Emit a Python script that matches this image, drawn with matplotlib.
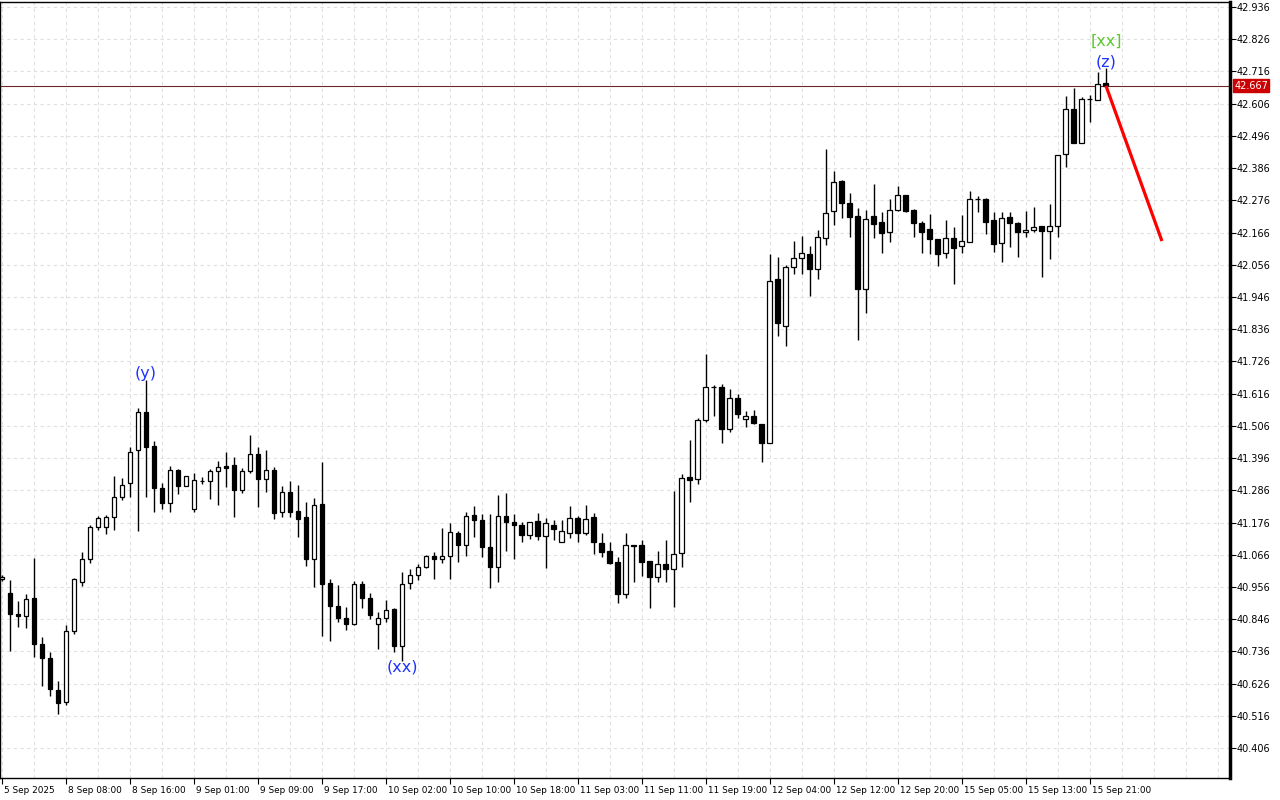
import matplotlib
matplotlib.use("Agg")
import matplotlib.pyplot as plt
import matplotlib.transforms as mtransforms
import numpy as np

# hourly candles, 5 Sep 2025 -> 15 Sep 2025
opens = [40.983, 40.936, 40.864, 40.857, 40.918, 40.761, 40.714, 40.604, 40.563, 40.805,
         40.973, 41.052, 41.161, 41.161, 41.195, 41.263, 41.311, 41.424, 41.553, 41.437,
         41.294, 41.243, 41.355, 41.301, 41.222, 41.318, 41.318, 41.352, 41.369, 41.372,
         41.287, 41.352, 41.410, 41.325, 41.355, 41.212, 41.280, 41.215, 41.195, 41.052,
         41.239, 40.970, 40.891, 40.850, 40.830, 40.966, 40.918, 40.830, 40.850, 40.881,
         40.755, 40.970, 40.997, 41.024, 41.062, 41.052, 41.062, 41.140, 41.099, 41.202,
         41.185, 41.092, 41.024, 41.198, 41.178, 41.168, 41.133, 41.181, 41.130, 41.168,
         41.110, 41.140, 41.192, 41.140, 41.195, 41.106, 41.079, 41.041, 40.932, 41.099,
         41.099, 41.045, 40.990, 41.035, 41.017, 41.072, 41.332, 41.325, 41.526, 41.639,
         41.639, 41.495, 41.601, 41.530, 41.540, 41.512, 41.448, 42.008, 41.847, 42.049,
         42.079, 42.093, 42.042, 42.147, 42.240, 42.342, 42.267, 42.223, 41.973, 42.223,
         42.202, 42.168, 42.243, 42.294, 42.243, 42.199, 42.178, 42.144, 42.096, 42.147,
         42.120, 42.134, 42.281, 42.281, 42.209, 42.130, 42.219, 42.199, 42.168, 42.175,
         42.188, 42.171, 42.188, 42.434, 42.588, 42.472, 42.622, 42.619, 42.677]

highs = [40.997, 40.980, 40.908, 40.932, 41.055, 40.785, 40.734, 40.635, 40.826, 40.987,
         41.076, 41.168, 41.198, 41.202, 41.335, 41.328, 41.434, 41.567, 41.663, 41.454,
         41.311, 41.369, 41.359, 41.335, 41.345, 41.332, 41.359, 41.386, 41.417, 41.400,
         41.362, 41.475, 41.434, 41.424, 41.366, 41.301, 41.318, 41.304, 41.246, 41.260,
         41.383, 40.983, 40.963, 40.888, 40.977, 40.977, 40.936, 40.871, 40.912, 40.884,
         41.007, 41.017, 41.035, 41.065, 41.076, 41.157, 41.174, 41.147, 41.212, 41.233,
         41.205, 41.205, 41.270, 41.277, 41.205, 41.178, 41.178, 41.209, 41.192, 41.185,
         41.185, 41.233, 41.198, 41.236, 41.209, 41.140, 41.110, 41.058, 41.140, 41.099,
         41.116, 41.045, 41.079, 41.116, 41.284, 41.342, 41.458, 41.533, 41.751, 41.646,
         41.649, 41.632, 41.615, 41.557, 41.560, 41.512, 42.093, 42.083, 42.055, 42.137,
         42.154, 42.120, 42.175, 42.451, 42.376, 42.346, 42.301, 42.250, 42.243, 42.332,
         42.236, 42.281, 42.325, 42.294, 42.247, 42.206, 42.229, 42.144, 42.209, 42.185,
         42.226, 42.308, 42.291, 42.284, 42.236, 42.236, 42.236, 42.202, 42.240, 42.253,
         42.188, 42.264, 42.431, 42.632, 42.660, 42.629, 42.636, 42.714, 42.728]

lows = [40.977, 40.738, 40.819, 40.816, 40.717, 40.618, 40.584, 40.522, 40.553, 40.796,
        40.959, 41.038, 41.151, 41.137, 41.151, 41.253, 41.263, 41.147, 41.263, 41.212,
        41.222, 41.212, 41.273, 41.301, 41.212, 41.308, 41.256, 41.236, 41.297, 41.195,
        41.277, 41.345, 41.229, 41.280, 41.188, 41.195, 41.195, 41.127, 41.028, 40.956,
        40.789, 40.772, 40.837, 40.809, 40.826, 40.884, 40.847, 40.744, 40.837, 40.734,
        40.703, 40.949, 40.980, 41.021, 40.983, 41.038, 40.983, 41.041, 41.062, 41.127,
        41.058, 40.953, 40.973, 41.079, 41.052, 41.110, 41.120, 41.116, 41.021, 41.116,
        41.110, 41.123, 41.110, 41.133, 41.069, 41.058, 41.035, 40.901, 40.918, 40.973,
        40.993, 40.884, 40.973, 40.973, 40.888, 41.024, 41.246, 41.308, 41.519, 41.540,
        41.448, 41.485, 41.533, 41.502, 41.512, 41.383, 41.448, 41.813, 41.779, 42.025,
        42.025, 41.949, 42.008, 42.124, 42.192, 42.216, 42.151, 41.799, 41.891, 42.147,
        42.096, 42.134, 42.240, 42.236, 42.151, 42.096, 42.093, 42.052, 42.079, 41.990,
        42.096, 42.134, 42.236, 42.161, 42.100, 42.066, 42.117, 42.083, 42.151, 42.168,
        42.014, 42.076, 42.151, 42.390, 42.472, 42.472, 42.544, 42.619, 42.667]

closes = [40.990, 40.864, 40.857, 40.915, 40.761, 40.714, 40.608, 40.560, 40.805, 40.983,
          41.052, 41.161, 41.192, 41.195, 41.263, 41.304, 41.417, 41.553, 41.434, 41.294,
          41.243, 41.355, 41.301, 41.335, 41.321, 41.318, 41.352, 41.366, 41.362, 41.287,
          41.352, 41.410, 41.325, 41.355, 41.209, 41.280, 41.212, 41.188, 41.052, 41.236,
          40.966, 40.891, 40.850, 40.830, 40.966, 40.918, 40.860, 40.850, 40.878, 40.755,
          40.966, 40.997, 41.024, 41.062, 41.052, 41.062, 41.144, 41.099, 41.198, 41.185,
          41.092, 41.024, 41.198, 41.178, 41.168, 41.133, 41.178, 41.130, 41.174, 41.154,
          41.147, 41.192, 41.140, 41.188, 41.110, 41.076, 41.038, 40.932, 41.099, 41.096,
          41.041, 40.990, 41.035, 41.017, 41.069, 41.328, 41.321, 41.526, 41.639, 41.639,
          41.495, 41.601, 41.547, 41.540, 41.516, 41.448, 42.001, 41.857, 42.049, 42.079,
          42.096, 42.042, 42.151, 42.233, 42.339, 42.267, 42.219, 41.973, 42.212, 42.195,
          42.164, 42.243, 42.294, 42.240, 42.199, 42.168, 42.144, 42.093, 42.147, 42.113,
          42.137, 42.281, 42.281, 42.202, 42.127, 42.216, 42.199, 42.168, 42.175, 42.185,
          42.171, 42.188, 42.431, 42.588, 42.472, 42.622, 42.622, 42.673, 42.667]

time_ticks = [0, 8, 16, 24, 32, 40, 48, 56, 64, 72, 80, 88, 96, 104, 112, 120, 128, 136]
time_labels = ["5 Sep 2025", "8 Sep 08:00", "8 Sep 16:00", "9 Sep 01:00", "9 Sep 09:00",
               "9 Sep 17:00", "10 Sep 02:00", "10 Sep 10:00", "10 Sep 18:00", "11 Sep 03:00",
               "11 Sep 11:00", "11 Sep 19:00", "12 Sep 04:00", "12 Sep 12:00", "12 Sep 20:00",
               "15 Sep 05:00", "15 Sep 13:00", "15 Sep 21:00"]

price_ticks = [42.936, 42.826, 42.716, 42.606, 42.496, 42.386, 42.276, 42.166, 42.056,
               41.946, 41.836, 41.726, 41.616, 41.506, 41.396, 41.286, 41.176, 41.066,
               40.956, 40.846, 40.736, 40.626, 40.516, 40.406]

last_price = 42.667
forecast_x = [138, 145]
forecast_y = [42.667, 42.137]

wave_labels = [("(y)", 18, "high", "#1e32ff"), ("(xx)", 50, "low", "#1e32ff"),
               ("(z)", 138, "high", "#1e32ff")]

o = np.array(opens)
h = np.array(highs)
l = np.array(lows)
c = np.array(closes)
x = np.arange(len(o))

fig = plt.figure(figsize=(12.8, 8), dpi=100)
ax = fig.add_axes([0.0, 0.0275, 0.9609, 0.97])
ax.set_xlim(-0.25, 153.5)
ax.set_ylim(40.304, 42.953)

# grid
for gx in range(0, 154, 4):
    ax.axvline(gx, color="#e0e0e0", lw=0.8, ls=(0, (3, 3)), zorder=0)
for gy in price_ticks:
    ax.axhline(gy, color="#e0e0e0", lw=0.8, ls=(0, (3, 3)), zorder=0)

# candles
up = c >= o
ax.vlines(x, l, h, color="black", lw=1.0, zorder=2)
ax.bar(x, np.abs(c - o), bottom=np.minimum(o, c), width=0.62,
       color=np.where(up, "white", "black"), edgecolor="black", linewidth=0.9, zorder=3)

# last price line and forecast
ax.axhline(last_price, color="#6e2a2a", lw=0.8, zorder=1)
ax.plot(forecast_x, forecast_y, color="#ff0000", lw=2.3, zorder=4, solid_capstyle="butt")

for txt, i, side, col in wave_labels:
    if side == "high":
        ax.annotate(txt, (i, h[i]), xytext=(0, -1), textcoords="offset points",
                    ha="center", va="bottom", color=col, fontsize=11.5, zorder=5)
    else:
        ax.annotate(txt, (i, l[i]), xytext=(0, 1), textcoords="offset points",
                    ha="center", va="top", color=col, fontsize=11.5, zorder=5)
ax.annotate("[xx]", (138, h[138]), xytext=(0, 14), textcoords="offset points",
            ha="center", va="bottom", color="#5cc82c", fontsize=11.5, zorder=5)

# axes styling
for s in ["left", "top", "bottom"]:
    ax.spines[s].set_linewidth(1.0)
    ax.spines[s].set_color("black")
ax.spines["right"].set_linewidth(2.5)

ax.yaxis.tick_right()
ax.set_yticks(price_ticks)
ax.set_yticklabels([f"{p:.3f}" for p in price_ticks], fontsize=7)
ax.tick_params(axis="y", direction="out", length=4, width=0.8, pad=1)

ax.set_xticks(time_ticks)
ax.set_xticklabels(time_labels, fontsize=6.4)
ax.tick_params(axis="x", direction="out", length=4, width=0.8, pad=2)
offset = mtransforms.ScaledTranslation(2 / 100, 0, fig.dpi_scale_trans)
for lab in ax.get_xticklabels():
    lab.set_horizontalalignment("left")
    lab.set_transform(lab.get_transform() + offset)

ax.annotate(f"{last_price:.3f}", xy=(1.0, last_price), xycoords=("axes fraction", "data"),
            xytext=(3, 0), textcoords="offset points", ha="left", va="center",
            fontsize=7, color="white",
            bbox=dict(boxstyle="square,pad=0.15", fc="#cc0000", ec="#cc0000"),
            annotation_clip=False)

fig.savefig("out.png", dpi=100, facecolor="white")
